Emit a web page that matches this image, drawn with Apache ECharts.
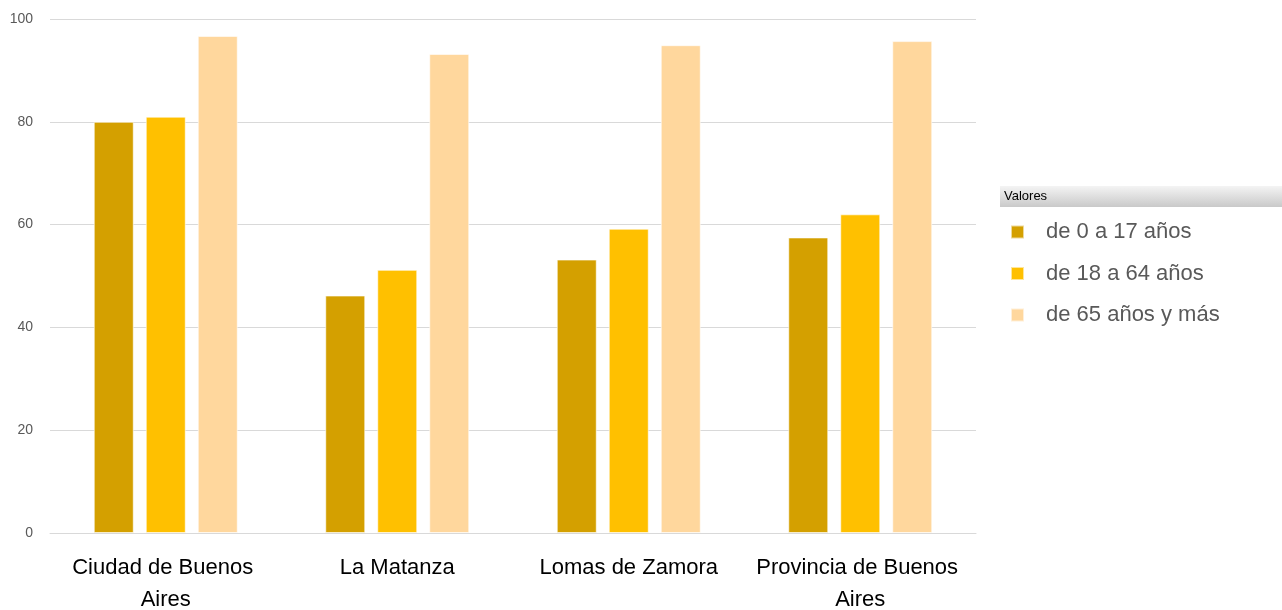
<!DOCTYPE html>
<html>
<head>
<meta charset="utf-8">
<script src="https://cdn.jsdelivr.net/npm/echarts@6/dist/echarts.min.js"></script>
<style>
  html, body { margin: 0; padding: 0; background: #fff; }
  #chart { width: 1282px; height: 610px; }
</style>
</head>
<body>
<div id="chart"></div>
<script>
// Chart data
const categories = ['Ciudad de Buenos Aires', 'La Matanza', 'Lomas de Zamora', 'Provincia de Buenos Aires'];
const seriesNames = ['de 0 a 17 años', 'de 18 a 64 años', 'de 65 años y más'];
const age0to17 = [80.0, 46.2, 53.2, 57.5];
const age18to64 = [81.0, 51.2, 59.2, 62.0];
const age65plus = [96.7, 93.2, 94.9, 95.7];
const yTicks = { min: 0, max: 100, interval: 20 };

const colors = ['#D4A000', '#FFC000', '#FFD79D'];
const FONT = '"Liberation Sans", Arial, sans-serif';

const chart = echarts.init(document.getElementById('chart'), null, { renderer: 'canvas' });

function barSeries(name, data, color) {
  return {
    name: name,
    type: 'bar',
    data: data,
    barWidth: 40,
    barGap: '30%',
    itemStyle: { color: color, borderColor: 'rgba(255,255,255,0.6)', borderWidth: 1 },
  };
}

chart.setOption({
  animation: false,
  color: colors,
  grid: { left: 50, right: 306, top: 19, bottom: 77, outerBoundsMode: 'none', containLabel: false },
  xAxis: {
    type: 'category',
    data: categories,
    axisLine: { lineStyle: { color: '#D9D9D9' } },
    axisTick: { show: false },
    axisLabel: {
      interval: 0,
      margin: 19,
      color: '#000',
      fontFamily: FONT,
      fontSize: 22,
      lineHeight: 32,
      width: 228,
      overflow: 'break',
    },
  },
  yAxis: {
    type: 'value',
    min: yTicks.min,
    max: yTicks.max,
    interval: yTicks.interval,
    axisLine: { show: false },
    axisTick: { show: false },
    splitLine: { lineStyle: { color: '#D9D9D9' } },
    axisLabel: { margin: 17, color: '#595959', fontFamily: FONT, fontSize: 14 },
  },
  legend: {
    orient: 'vertical',
    left: 1005,
    top: 216,
    icon: 'rect',
    itemWidth: 13,
    itemHeight: 13,
    itemGap: 19.5,
    data: seriesNames,
    textStyle: { color: '#595959', fontFamily: FONT, fontSize: 22, padding: [0, 0, 0, 17] },
  },
  graphic: [
    {
      type: 'rect',
      left: 1000,
      top: 186,
      shape: { width: 282, height: 21 },
      style: {
        fill: new echarts.graphic.LinearGradient(0, 0, 0, 1, [
          { offset: 0, color: '#F4F4F4' },
          { offset: 1, color: '#C9C9C9' },
        ]),
      },
    },
    {
      type: 'text',
      left: 1004,
      top: 190,
      style: { text: 'Valores', fill: '#000', font: '13px ' + FONT },
    },
  ],
  series: [
    barSeries(seriesNames[0], age0to17, colors[0]),
    barSeries(seriesNames[1], age18to64, colors[1]),
    barSeries(seriesNames[2], age65plus, colors[2]),
  ],
});
</script>
</body>
</html>
